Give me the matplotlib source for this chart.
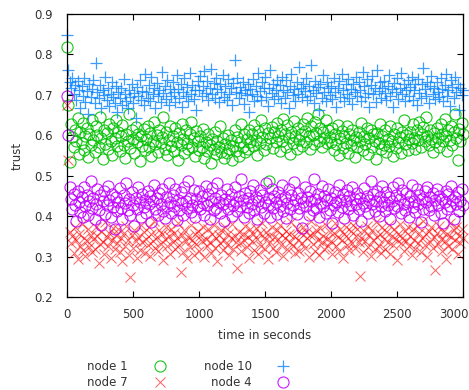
import numpy as np
import matplotlib
matplotlib.use("Agg")
import matplotlib.pyplot as plt
from matplotlib.lines import Line2D
import matplotlib.transforms as mtransforms

# ---------------- data ----------------
time_step = 10  # seconds between samples
node10 = [0.848, 0.762, 0.731, 0.718, 0.742, 0.703, 0.724, 0.688, 0.735, 0.712, 0.668, 0.721, 0.697, 0.741, 0.683, 0.709, 0.652, 0.726, 0.694, 0.715,
          0.737, 0.681, 0.778, 0.706, 0.692, 0.724, 0.668, 0.713, 0.699, 0.745, 0.687, 0.716, 0.672, 0.703, 0.731, 0.694, 0.681, 0.722, 0.658, 0.707,
          0.693, 0.718, 0.676, 0.739, 0.701, 0.686, 0.667, 0.712, 0.694, 0.728, 0.681, 0.705, 0.643, 0.719, 0.697, 0.736, 0.688, 0.710, 0.674, 0.752,
          0.708, 0.692, 0.724, 0.685, 0.743, 0.701, 0.716, 0.668, 0.729, 0.697, 0.711, 0.683, 0.756, 0.704, 0.722, 0.689, 0.737, 0.676, 0.714, 0.698,
          0.731, 0.706, 0.682, 0.748, 0.715, 0.693, 0.727, 0.671, 0.708, 0.741, 0.696, 0.719, 0.684, 0.753, 0.702, 0.725, 0.689, 0.713, 0.662, 0.734,
          0.711, 0.746, 0.697, 0.723, 0.758, 0.704, 0.735, 0.687, 0.718, 0.765, 0.701, 0.729, 0.692, 0.741, 0.714, 0.683, 0.726, 0.707, 0.749, 0.694,
          0.721, 0.687, 0.738, 0.703, 0.716, 0.674, 0.729, 0.786, 0.708, 0.742, 0.691, 0.719, 0.704, 0.733, 0.678, 0.712, 0.699, 0.726, 0.657, 0.715,
          0.702, 0.739, 0.684, 0.721, 0.697, 0.754, 0.709, 0.688, 0.731, 0.716, 0.743, 0.694, 0.673, 0.718, 0.762, 0.705, 0.727, 0.689, 0.711, 0.736,
          0.698, 0.724, 0.681, 0.745, 0.713, 0.692, 0.736, 0.707, 0.668, 0.721, 0.751, 0.699, 0.714, 0.686, 0.732, 0.703, 0.768, 0.717, 0.694, 0.728,
          0.709, 0.742, 0.687, 0.723, 0.697, 0.774, 0.712, 0.681, 0.735, 0.704, 0.719, 0.663, 0.727, 0.693, 0.748, 0.708, 0.685, 0.731, 0.716, 0.699,
          0.722, 0.689, 0.741, 0.706, 0.671, 0.717, 0.734, 0.695, 0.752, 0.711, 0.684, 0.728, 0.703, 0.739, 0.692, 0.715, 0.678, 0.726, 0.707, 0.744,
          0.698, 0.733, 0.712, 0.686, 0.757, 0.721, 0.694, 0.738, 0.705, 0.669, 0.724, 0.746, 0.701, 0.716, 0.683, 0.762, 0.709, 0.731, 0.692, 0.718,
          0.735, 0.704, 0.687, 0.723, 0.748, 0.696, 0.714, 0.671, 0.729, 0.707, 0.741, 0.689, 0.718, 0.755, 0.702, 0.726, 0.684, 0.712, 0.737, 0.697,
          0.719, 0.743, 0.688, 0.711, 0.726, 0.674, 0.739, 0.705, 0.692, 0.728, 0.766, 0.714, 0.698, 0.733, 0.681, 0.721, 0.747, 0.703, 0.716, 0.689,
          0.732, 0.707, 0.694, 0.741, 0.715, 0.686, 0.724, 0.752, 0.698, 0.711, 0.673, 0.736, 0.719, 0.691, 0.745, 0.706, 0.728, 0.662, 0.717, 0.699,
          0.712]
node1 = [0.818, 0.676, 0.534, 0.628, 0.596, 0.571, 0.614, 0.587, 0.643, 0.553, 0.607, 0.582, 0.631, 0.564, 0.598, 0.619, 0.547, 0.603, 0.576, 0.637,
         0.589, 0.558, 0.624, 0.601, 0.572, 0.646, 0.593, 0.541, 0.612, 0.579, 0.605, 0.566, 0.627, 0.585, 0.552, 0.618, 0.594, 0.638, 0.573, 0.609,
         0.561, 0.598, 0.626, 0.577, 0.544, 0.604, 0.586, 0.652, 0.569, 0.613, 0.591, 0.557, 0.621, 0.583, 0.602, 0.536, 0.597, 0.574, 0.616, 0.563,
         0.592, 0.624, 0.571, 0.605, 0.548, 0.587, 0.633, 0.578, 0.601, 0.559, 0.614, 0.582, 0.596, 0.645, 0.567, 0.608, 0.552, 0.589, 0.623, 0.574,
         0.598, 0.561, 0.617, 0.584, 0.539, 0.606, 0.575, 0.628, 0.592, 0.556, 0.613, 0.581, 0.567, 0.604, 0.634, 0.571, 0.594, 0.548, 0.611, 0.586,
         0.563, 0.597, 0.572, 0.615, 0.544, 0.583, 0.561, 0.604, 0.576, 0.531, 0.592, 0.566, 0.609, 0.554, 0.587, 0.571, 0.623, 0.558, 0.594, 0.543,
         0.578, 0.556, 0.601, 0.567, 0.589, 0.538, 0.574, 0.612, 0.561, 0.596, 0.549, 0.583, 0.627, 0.572, 0.604, 0.558, 0.591, 0.567, 0.613, 0.584,
         0.602, 0.573, 0.626, 0.589, 0.551, 0.611, 0.582, 0.638, 0.596, 0.564, 0.617, 0.579, 0.605, 0.486, 0.593, 0.621, 0.568, 0.607, 0.584, 0.631,
         0.597, 0.562, 0.614, 0.586, 0.641, 0.603, 0.571, 0.625, 0.594, 0.553, 0.609, 0.582, 0.636, 0.598, 0.567, 0.618, 0.589, 0.604, 0.574, 0.628,
         0.611, 0.583, 0.642, 0.597, 0.566, 0.624, 0.601, 0.578, 0.633, 0.605, 0.652, 0.587, 0.619, 0.572, 0.608, 0.594, 0.637, 0.581, 0.612, 0.596,
         0.584, 0.617, 0.563, 0.602, 0.578, 0.626, 0.551, 0.593, 0.611, 0.569, 0.598, 0.582, 0.624, 0.557, 0.604, 0.576, 0.614, 0.588, 0.547, 0.596,
         0.572, 0.608, 0.586, 0.631, 0.564, 0.597, 0.579, 0.619, 0.553, 0.594, 0.613, 0.571, 0.602, 0.587, 0.542, 0.606, 0.581, 0.627, 0.566, 0.598,
         0.577, 0.612, 0.559, 0.591, 0.574, 0.623, 0.586, 0.548, 0.602, 0.568, 0.617, 0.583, 0.596, 0.557, 0.609, 0.638, 0.579, 0.601, 0.564, 0.592,
         0.608, 0.581, 0.627, 0.594, 0.566, 0.613, 0.589, 0.634, 0.572, 0.604, 0.621, 0.587, 0.646, 0.598, 0.575, 0.612, 0.591, 0.559, 0.606, 0.583,
         0.617, 0.594, 0.571, 0.628, 0.603, 0.586, 0.641, 0.598, 0.562, 0.613, 0.589, 0.624, 0.577, 0.608, 0.653, 0.594, 0.538, 0.615, 0.586, 0.631,
         0.602]
node4 = [0.698, 0.601, 0.472, 0.443, 0.418, 0.456, 0.427, 0.389, 0.462, 0.435, 0.411, 0.448, 0.397, 0.471, 0.426, 0.453, 0.404, 0.437, 0.486, 0.419,
         0.445, 0.392, 0.431, 0.467, 0.414, 0.452, 0.378, 0.438, 0.461, 0.406, 0.427, 0.474, 0.441, 0.399, 0.456, 0.423, 0.368, 0.447, 0.412, 0.435,
         0.469, 0.421, 0.394, 0.452, 0.433, 0.481, 0.416, 0.442, 0.403, 0.459, 0.428, 0.376, 0.446, 0.417, 0.471, 0.434, 0.398, 0.455, 0.422, 0.439,
         0.407, 0.463, 0.429, 0.451, 0.385, 0.437, 0.476, 0.418, 0.444, 0.402, 0.457, 0.431, 0.468, 0.413, 0.395, 0.448, 0.426, 0.483, 0.436, 0.409,
         0.453, 0.424, 0.467, 0.391, 0.441, 0.415, 0.459, 0.432, 0.404, 0.472, 0.438, 0.419, 0.487, 0.446, 0.411, 0.428, 0.464, 0.397, 0.443, 0.425,
         0.461, 0.417, 0.449, 0.433, 0.402, 0.474, 0.427, 0.455, 0.393, 0.438, 0.469, 0.414, 0.446, 0.421, 0.482, 0.436, 0.408, 0.452, 0.429, 0.387,
         0.443, 0.466, 0.418, 0.437, 0.455, 0.401, 0.428, 0.473, 0.434, 0.412, 0.449, 0.426, 0.491, 0.441, 0.397, 0.458, 0.423, 0.445, 0.408, 0.462,
         0.431, 0.476, 0.416, 0.447, 0.392, 0.438, 0.464, 0.422, 0.453, 0.409, 0.435, 0.481, 0.427, 0.444, 0.398, 0.468, 0.419, 0.451, 0.436, 0.405,
         0.459, 0.424, 0.442, 0.477, 0.413, 0.448, 0.395, 0.433, 0.466, 0.418, 0.452, 0.427, 0.484, 0.439, 0.406, 0.457, 0.421, 0.446, 0.371, 0.434,
         0.471, 0.426, 0.448, 0.403, 0.462, 0.437, 0.414, 0.493, 0.443, 0.419, 0.456, 0.398, 0.432, 0.474, 0.425, 0.451, 0.409, 0.439, 0.467, 0.416,
         0.445, 0.382, 0.428, 0.459, 0.434, 0.411, 0.478, 0.441, 0.422, 0.455, 0.396, 0.437, 0.465, 0.418, 0.449, 0.427, 0.472, 0.404, 0.443, 0.431,
         0.458, 0.417, 0.446, 0.389, 0.432, 0.469, 0.424, 0.451, 0.408, 0.441, 0.486, 0.429, 0.455, 0.413, 0.437, 0.462, 0.401, 0.448, 0.425, 0.474,
         0.436, 0.412, 0.459, 0.428, 0.447, 0.393, 0.438, 0.471, 0.419, 0.453, 0.426, 0.481, 0.442, 0.407, 0.464, 0.431, 0.415, 0.457, 0.434, 0.397,
         0.449, 0.476, 0.423, 0.438, 0.411, 0.466, 0.429, 0.452, 0.386, 0.443, 0.418, 0.461, 0.435, 0.472, 0.414, 0.447, 0.424, 0.458, 0.403, 0.439,
         0.467, 0.428, 0.451, 0.409, 0.442, 0.384, 0.436, 0.463, 0.417, 0.455, 0.426, 0.474, 0.441, 0.392, 0.448, 0.431, 0.459, 0.413, 0.437, 0.466,
         0.428]
node7 = [0.676, 0.538, 0.362, 0.334, 0.351, 0.308, 0.372, 0.341, 0.293, 0.356, 0.327, 0.381, 0.316, 0.347, 0.302, 0.338, 0.369, 0.324, 0.354, 0.311,
         0.343, 0.319, 0.374, 0.352, 0.284, 0.331, 0.363, 0.337, 0.306, 0.385, 0.348, 0.326, 0.359, 0.297, 0.342, 0.371, 0.318, 0.354, 0.333, 0.367,
         0.312, 0.346, 0.289, 0.358, 0.327, 0.376, 0.341, 0.304, 0.249, 0.353, 0.322, 0.366, 0.338, 0.296, 0.349, 0.317, 0.379, 0.335, 0.361, 0.309,
         0.344, 0.328, 0.372, 0.301, 0.356, 0.339, 0.387, 0.321, 0.348, 0.314, 0.365, 0.332, 0.357, 0.291, 0.343, 0.374, 0.326, 0.352, 0.307, 0.368,
         0.336, 0.359, 0.318, 0.345, 0.383, 0.329, 0.262, 0.353, 0.311, 0.366, 0.338, 0.297, 0.349, 0.324, 0.377, 0.341, 0.305, 0.357, 0.332, 0.363,
         0.314, 0.351, 0.339, 0.372, 0.298, 0.344, 0.325, 0.368, 0.336, 0.309, 0.357, 0.378, 0.321, 0.347, 0.288, 0.354, 0.333, 0.365, 0.317, 0.342,
         0.374, 0.328, 0.356, 0.303, 0.346, 0.381, 0.319, 0.352, 0.337, 0.271, 0.362, 0.334, 0.313, 0.357, 0.341, 0.376, 0.323, 0.349, 0.296, 0.367,
         0.338, 0.355, 0.316, 0.371, 0.343, 0.307, 0.359, 0.327, 0.384, 0.345, 0.318, 0.362, 0.293, 0.351, 0.336, 0.373, 0.322, 0.348, 0.311, 0.366,
         0.343, 0.379, 0.328, 0.354, 0.301, 0.347, 0.364, 0.319, 0.357, 0.335, 0.386, 0.326, 0.352, 0.308, 0.369, 0.341, 0.315, 0.358, 0.333, 0.374,
         0.321, 0.362, 0.345, 0.299, 0.353, 0.388, 0.331, 0.357, 0.314, 0.366, 0.342, 0.304, 0.371, 0.336, 0.352, 0.318, 0.377, 0.344, 0.327, 0.361,
         0.339, 0.306, 0.358, 0.382, 0.325, 0.349, 0.313, 0.367, 0.341, 0.296, 0.355, 0.372, 0.329, 0.346, 0.317, 0.363, 0.334, 0.378, 0.322, 0.351,
         0.369, 0.335, 0.253, 0.347, 0.311, 0.364, 0.338, 0.376, 0.323, 0.353, 0.301, 0.366, 0.342, 0.318, 0.385, 0.349, 0.327, 0.357, 0.309, 0.372,
         0.344, 0.319, 0.361, 0.336, 0.378, 0.307, 0.352, 0.329, 0.368, 0.343, 0.292, 0.356, 0.381, 0.333, 0.347, 0.315, 0.364, 0.339, 0.374, 0.326,
         0.352, 0.305, 0.367, 0.341, 0.318, 0.376, 0.334, 0.358, 0.312, 0.346, 0.387, 0.328, 0.355, 0.299, 0.363, 0.337, 0.372, 0.321, 0.349, 0.268,
         0.358, 0.331, 0.376, 0.344, 0.313, 0.362, 0.339, 0.294, 0.355, 0.327, 0.384, 0.348, 0.319, 0.366, 0.341, 0.373, 0.306, 0.352, 0.334, 0.368,
         0.347]

series_names = ["node 1", "node 10", "node 7", "node 4"]
series_values = [node1, node10, node7, node4]
x_ticks = [0, 500, 1000, 1500, 2000, 2500, 3000]
y_ticks = [0.2, 0.3, 0.4, 0.5, 0.6, 0.7, 0.8, 0.9]

# ---------------- styles ----------------
styles = {
    "node 1": dict(marker="o", color="#00c000", ms=8.0, mew=0.8, alpha=0.9),
    "node 10": dict(marker="+", color="#0a84ff", ms=8.4, mew=0.9, alpha=0.8),
    "node 7": dict(marker="x", color="#ff0000", ms=7.8, mew=0.75, alpha=0.6),
    "node 4": dict(marker="o", color="#c000ff", ms=8.0, mew=0.8, alpha=0.9),
}
text_color = "#333333"

W, H = 469, 390
fig = plt.figure(figsize=(W / 100, H / 100), dpi=100)
ax = fig.add_axes([67 / W, 1 - 297 / H, (463 - 67) / W, (297 - 14) / H])

for name, vals in zip(series_names, series_values):
    t = np.arange(len(vals)) * time_step
    st = styles[name]
    ax.plot(t, vals, linestyle="none", marker=st["marker"], ms=st["ms"],
            mfc="none", mec=st["color"], mew=st["mew"], alpha=st["alpha"],
            clip_on=False)

ax.set_xlim(0, 3000)
ax.set_ylim(0.2, 0.9)
ax.set_xticks(x_ticks)
ax.set_yticks(y_ticks)
ax.set_xticklabels([str(v) for v in x_ticks])
ax.set_yticklabels([f"{v:.1f}" for v in y_ticks])
ax.tick_params(direction="in", length=4, width=0.8, top=True, right=True,
               labelsize=8.5, labelcolor=text_color, pad=8)
ax.tick_params(axis="y", pad=10)
for sp in ax.spines.values():
    sp.set_linewidth(0.9)
    sp.set_color("black")
    sp.set_zorder(5)

# last x label right-aligned like gnuplot
lab = ax.get_xticklabels()[-1]
lab.set_horizontalalignment("right")
lab.set_transform(lab.get_transform() + mtransforms.ScaledTranslation(6 / 100, 0, fig.dpi_scale_trans))

ax.set_xlabel("time in seconds", fontsize=8.5, color=text_color, labelpad=6)
ax.set_ylabel("trust", fontsize=8.5, color=text_color, labelpad=8)

# manual legend (gnuplot style, right-aligned text, marker to its right)
legend_rows = [("node 1", 128, 366, 160), ("node 10", 252, 366, 283),
               ("node 7", 128, 382, 160), ("node 4", 252, 382, 283)]
for name, tx, ty, mx in legend_rows:
    fig.text(tx / W, 1 - ty / H, name, ha="right", va="center", fontsize=8.5, color=text_color)
    st = styles[name]
    fig.add_artist(Line2D([mx / W], [1 - ty / H], transform=fig.transFigure,
                          linestyle="none", marker=st["marker"], ms=st["ms"],
                          mfc="none", mec=st["color"], mew=st["mew"], alpha=st["alpha"]))

fig.savefig("out.png", dpi=100)
